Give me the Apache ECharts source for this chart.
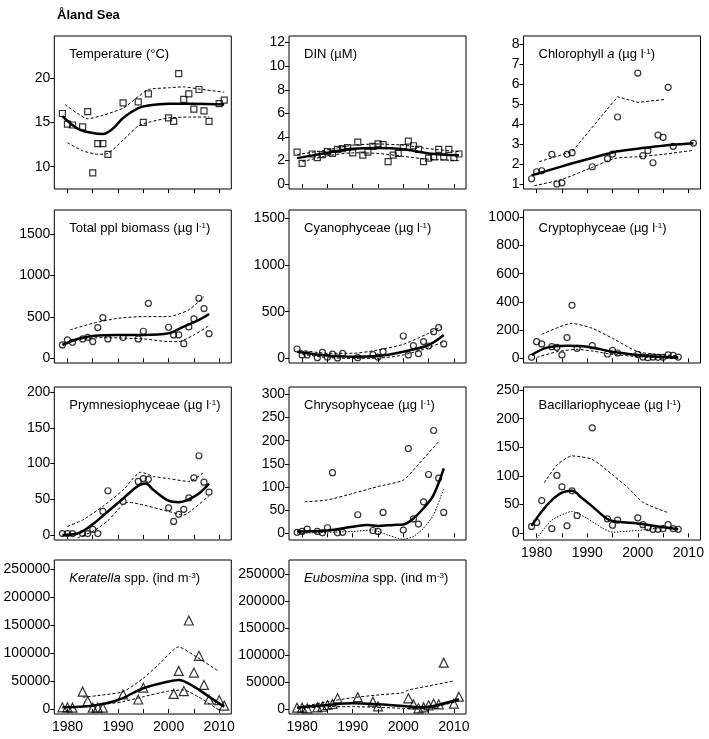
<!DOCTYPE html>
<html><head><meta charset="utf-8">
<script src="https://cdn.jsdelivr.net/npm/echarts@6/dist/echarts.min.js"></script>
<style>html,body{margin:0;padding:0;background:#fff}#c{width:709px;height:739px}</style>
</head><body><div id="c"></div>
<script>
// ---------- data ----------
const xTickYears = [1980, 1985, 1990, 1995, 2000, 2005, 2010];
const xLabelYears = [1980, 1990, 2000, 2010];

const tempTicks = [10, 15, 20];
const tempPts = [[1979,16.0],[1980,14.8],[1981,14.7],[1983,14.5],[1984,16.2],[1985,9.3],[1986,12.6],[1987,12.6],[1988,11.4],[1991,17.2],[1994,17.3],[1995,15.0],[1996,18.2],[2000,15.5],[2001,15.1],[2002,20.5],[2003,17.6],[2004,18.2],[2005,16.5],[2006,18.7],[2007,16.3],[2008,15.1],[2010,17.1],[2011,17.5]];
const tempFit = [[1979,15.7],[1982,14.3],[1985,13.8],[1987,13.7],[1989,14.3],[1991,15.5],[1994,16.6],[1996,16.9],[2000,17.1],[2005,17.1],[2011,17.0]];
const tempUpper = [[1979.5,17.0],[1982,16.0],[1984,15.4],[1987,15.8],[1991,16.6],[1994,17.9],[1996,18.7],[2000,18.9],[2003,19.0],[2006,18.75],[2011,18.4]];
const tempLower = [[1980,12.7],[1983,11.8],[1986,11.4],[1988,11.5],[1991,13.0],[1994,14.6],[1996,15.0],[2000,15.5],[2004,15.6],[2008,15.6]];

const dinTicks = [0, 2, 4, 6, 8, 10, 12];
const dinPts = [[1979,2.7],[1980,1.75],[1982,2.55],[1983,2.25],[1984,2.5],[1985,2.75],[1986,2.6],[1987,2.95],[1988,3.0],[1989,3.1],[1990,2.65],[1991,3.55],[1992,2.45],[1993,2.7],[1994,3.2],[1995,3.4],[1996,3.35],[1997,1.9],[1998,2.45],[1999,2.6],[2000,3.1],[2001,3.65],[2002,3.25],[2003,2.95],[2004,1.9],[2005,2.2],[2006,2.3],[2007,2.95],[2008,2.3],[2009,2.95],[2010,2.25],[2011,2.55]];
const dinFit = [[1979,2.2],[1985,2.65],[1990,3.0],[1995,3.05],[2000,2.95],[2005,2.6],[2011,2.45]];
const dinUpper = [[1979,2.5],[1985,2.9],[1990,3.3],[1995,3.4],[2000,3.3],[2005,3.0],[2011,2.75]];
const dinLower = [[1980,1.9],[1985,2.4],[1990,2.65],[1995,2.6],[2000,2.35],[2005,2.1],[2011,2.0]];

const chlTicks = [1, 2, 3, 4, 5, 6, 7, 8];
const chlPts = [[1979,1.28],[1980,1.63],[1981,1.68],[1983,2.5],[1984,1.02],[1985,1.08],[1986,2.5],[1987,2.58],[1991,1.88],[1994,2.28],[1995,2.51],[1996,4.36],[2000,6.55],[2001,2.43],[2002,2.68],[2003,2.08],[2004,3.46],[2005,3.34],[2006,5.84],[2007,2.9],[2011,3.06]];
const chlFit = [[1979,1.45],[1985,1.9],[1990,2.25],[1996,2.65],[2000,2.78],[2005,2.93],[2011,3.05]];
const chlUpper = [[1980.5,2.13],[1987,2.63],[1996,5.37],[2000,5.09],[2005.5,5.24]];
const chlLower = [[1979.5,0.93],[1985,1.25],[1991,1.85],[1995.5,2.3],[2000,2.38],[2005,2.5],[2011,2.7]];

const totTicks = [0, 500, 1000, 1500];
const totPts = [[1979,161],[1980,222],[1981,194],[1983,234],[1984,254],[1985,202],[1986,371],[1987,492],[1988,234],[1991,250],[1994,234],[1995,327],[1996,665],[2000,375],[2001,282],[2002,282],[2003,177],[2004,379],[2005,476],[2006,726],[2007,601],[2008,298]];
const totFit = [[1979,161],[1982,234],[1985,270],[1990,282],[1995,282],[2000,302],[2003,383],[2006,464],[2008,536]];
const totUpper = [[1980.5,343],[1985,423],[1990,484],[1995,504],[2000,504],[2004,585],[2007,746]];
const totLower = [[1979.5,181],[1983,234],[1987,250],[1995,234],[2000,202],[2002,202],[2005,282],[2008,395]];

const cyaTicks = [0, 500, 1000, 1500];
const cyaPts = [[1979,100],[1980,36],[1981,36],[1983,7],[1984,64],[1985,11],[1986,46],[1987,4],[1988,54],[1991,7],[1994,39],[1995,14],[1996,71],[2000,239],[2001,36],[2002,136],[2003,50],[2004,179],[2005,132],[2006,286],[2007,329],[2008,154]];
const cyaFit = [[1979,71],[1985,29],[1990,18],[1995,25],[2000,71],[2005,143],[2008,250]];
const cyaUpper = [[1979.5,89],[1985,54],[1990,54],[1995,89],[2000,150],[2005,268],[2007.5,339]];
const cyaLower = [[1980,43],[1985,7],[1990,0],[1995,2],[2000,36],[2005,114],[2008,179]];

const cryTicks = [0, 200, 400, 600, 800, 1000];
const cryPts = [[1979,7],[1980,118],[1981,102],[1983,83],[1984,78],[1985,24],[1986,147],[1987,376],[1988,71],[1991,90],[1994,31],[1995,57],[1996,38],[2000,28],[2001,9],[2002,5],[2003,9],[2004,7],[2005,7],[2006,24],[2007,21],[2008,9]];
const cryFit = [[1979,24],[1982,76],[1986,90],[1990,83],[1995,47],[2000,24],[2005,9],[2008,7]];
const cryUpper = [[1981,170],[1987,248],[1991,213],[1995,142],[2000,47],[2005,24],[2008,19]];
const cryLower = [[1980,7],[1984,47],[1988,64],[1991,52],[1995,28],[2000,12],[2005,2],[2008,0]];

const prmTicks = [0, 50, 100, 150, 200];
const prmPts = [[1979,2],[1980,2],[1981,2],[1983,2],[1984,2],[1985,8],[1986,2],[1987,33],[1988,62],[1991,47],[1994,75],[1995,79],[1996,78],[2000,38],[2001,19],[2002,29],[2003,36],[2004,52],[2005,80],[2006,111],[2007,74],[2008,60]];
const prmFit = [[1979,0],[1982,2],[1985,15],[1988,33],[1991,51],[1994,69],[1995.5,72],[1997,63],[2000,48],[2002,46],[2004,50],[2006,58],[2008,72]];
const prmUpper = [[1980,12],[1983,21],[1987,40],[1991,63],[1994.5,88],[1997,82],[2000,79],[2004,75],[2007,88]];
const prmLower = [[1982,-4],[1985,5],[1988,20],[1991,43],[1992,46],[1995,42],[2000,33],[2003,28],[2005,37],[2008,55]];

const chrTicks = [0, 50, 100, 150, 200, 250, 300];
const chrPts = [[1979,2],[1980,4],[1981,9],[1983,4],[1984,1],[1985,12],[1986,131],[1987,1],[1988,2],[1991,40],[1994,6],[1995,4],[1996,45],[2000,7],[2001,183],[2002,31],[2003,20],[2004,68],[2005,127],[2006,222],[2007,119],[2008,45]];
const chrFit = [[1979,4],[1985,6],[1990,14],[1993,18],[1995,16],[1998,18],[2000,19],[2002,32],[2004,54],[2006,83],[2008,140]];
const chrUpper = [[1980.5,68],[1985,72],[1990,86],[1995,101],[2000,115],[2003,149],[2007,198]];
const chrLower = [[1979,0],[1985,2],[1990,4],[1994,7],[1997,-4],[2000,-13],[2002,-7],[2004,11],[2006,40],[2008,97]];

const bacTicks = [0, 50, 100, 150, 200, 250];
const bacPts = [[1979,12],[1980,19],[1981,57],[1983,8],[1984,101],[1985,81],[1986,13],[1987,74],[1988,31],[1991,184],[1994,25],[1995,14],[1996,23],[2000,27],[2001,15],[2002,10],[2003,7],[2004,7],[2005,8],[2006,15],[2007,8],[2008,7]];
const bacFit = [[1979,13],[1981,38],[1983,58],[1985,71],[1987,74],[1989,61],[1991,47],[1994,25],[1996,20],[2000,17],[2004,12],[2008,7]];
const bacUpper = [[1981.5,88],[1984,119],[1987,135],[1991,129],[1995,102],[1998,80],[2001,54],[2006,36]];
const bacLower = [[1980,-9],[1983,23],[1987,38],[1990,26],[1993,9],[1995,2],[2000,5],[2004,9],[2006,10]];

const kerTicks = [0, 50000, 100000, 150000, 200000, 250000];
const kerPts = [[1979,3000],[1980,3000],[1981,2400],[1983,31000],[1984,14300],[1985,2400],[1986,2400],[1987,2400],[1991,26000],[1994,17000],[1995,38000],[2001,27000],[2002,68000],[2003,32000],[2004,158000],[2005,65000],[2006,95000],[2007,43000],[2008,17000],[2010,16000],[2011,6000]];
const kerFit = [[1979,3000],[1985,6000],[1990,16000],[1995,37000],[2000,49000],[2002,52000],[2005,40000],[2008,22000],[2011,4000]];
const kerUpper = [[1983,21000],[1986,24000],[1991,31000],[1995,55000],[1998,79000],[2002,111000],[2005,96000],[2010,67000]];
const kerLower = [[1984,5000],[1987,8000],[1991,13000],[1995,22000],[2000,32000],[2003,34000],[2006,21000],[2010,-2000]];

const eubTicks = [0, 50000, 100000, 150000, 200000, 250000];
const eubPts = [[1979,2500],[1980,2500],[1981,1200],[1983,3000],[1984,4300],[1985,7400],[1986,9300],[1987,19800],[1991,22000],[1994,13600],[1995,5000],[2001,19800],[2002,8700],[2003,1200],[2004,3000],[2005,6800],[2006,9900],[2007,8700],[2008,86000],[2010,9900],[2011,22900]];
const eubFit = [[1979,2500],[1985,7400],[1990,10500],[1995,8700],[2000,5600],[2003,3100],[2006,5600],[2011,18000]];
const eubUpper = [[1980,4300],[1985,13600],[1990,21000],[1995,26000],[2000,30300],[2001,35300],[2005,42700],[2010,52000]];
const eubLower = [[1980,1200],[1985,4300],[1990,4300],[1995,3100],[2000,1200],[2003,0],[2006,3100],[2011,14800]];

// ---------- layout ----------
const colLeft = [54.3, 289, 523.5];
const rowTop = [36, 210, 387, 560];
const W = 177, H = 153;
const FONT = '"Liberation Sans", Arial, sans-serif';

const panels = [
  {r:0,c:0, label:'{n|Temperature (°C)}', ticks:tempTicks, y:[7.49,24.73], pts:tempPts, fit:tempFit, up:tempUpper, lo:tempLower, sym:'rect', ss:6},
  {r:0,c:1, label:'{n|DIN (µM)}', ticks:dinTicks, y:[-0.42,12.56], pts:dinPts, fit:dinFit, up:dinUpper, lo:dinLower, sym:'rect', ss:6},
  {r:0,c:2, label:'{n|Chlorophyll }{i|a}{n| (µg l}{s|-1}{n|)}', ticks:chlTicks, y:[0.77,8.40], pts:chlPts, fit:chlFit, up:chlUpper, lo:chlLower, sym:'circle', ss:6, upSmooth:0},
  {r:1,c:0, label:'{n|Total ppl biomass (µg l}{s|-1}{n|)}', ticks:totTicks, y:[-57,1793], pts:totPts, fit:totFit, up:totUpper, lo:totLower, sym:'circle', ss:6},
  {r:1,c:1, label:'{n|Cyanophyceae (µg l}{s|-1}{n|)}', ticks:cyaTicks, y:[-50,1589], pts:cyaPts, fit:cyaFit, up:cyaUpper, lo:cyaLower, sym:'circle', ss:6},
  {r:1,c:2, label:'{n|Cryptophyceae (µg l}{s|-1}{n|)}', ticks:cryTicks, y:[-33,1052], pts:cryPts, fit:cryFit, up:cryUpper, lo:cryLower, sym:'circle', ss:6},
  {r:2,c:0, label:'{n|Prymnesiophyceae (µg l}{s|-1}{n|)}', ticks:prmTicks, y:[-7,207.3], pts:prmPts, fit:prmFit, up:prmUpper, lo:prmLower, sym:'circle', ss:6},
  {r:2,c:1, label:'{n|Chrysophyceae (µg l}{s|-1}{n|)}', ticks:chrTicks, y:[-14.5,316], pts:chrPts, fit:chrFit, up:chrUpper, lo:chrLower, sym:'circle', ss:6, loDot:true},
  {r:2,c:2, label:'{n|Bacillariophyceae (µg l}{s|-1}{n|)}', ticks:bacTicks, y:[-11.7,255.2], pts:bacPts, fit:bacFit, up:bacUpper, lo:bacLower, sym:'circle', ss:6, loDot:true, xl:true},
  {r:3,c:0, label:'{i|Keratella}{n| spp. (ind m}{s|-3}{n|)}', ticks:kerTicks, y:[-8929,266071], pts:kerPts, fit:kerFit, up:kerUpper, lo:kerLower, sym:'triangle', ss:9, xl:true},
  {r:3,c:1, label:'{i|Eubosmina}{n| spp. (ind m}{s|-3}{n|)}', ticks:eubTicks, y:[-9280,276540], pts:eubPts, fit:eubFit, up:eubUpper, lo:eubLower, sym:'triangle', ss:9, xl:true}
];

const grid = [], xAxis = [], yAxis = [], series = [];
const title = [{
  text: 'Åland Sea', left: 52, top: 4,
  textStyle: {fontFamily: FONT, fontSize: 13, fontWeight: 'bold', color: '#000'}
}];
const rich = {
  n: {fontFamily: FONT, fontSize: 13, fontWeight: 'normal', color: '#000'},
  i: {fontFamily: FONT, fontSize: 13, fontWeight: 'normal', fontStyle: 'italic', color: '#000'},
  s: {fontFamily: FONT, fontSize: 8, fontWeight: 'normal', color: '#000', verticalAlign: 'top', lineHeight: 10}
};

panels.forEach((p, k) => {
  const left = colLeft[p.c], top = rowTop[p.r];
  grid.push({left: left, top: top, width: W, height: p.r === 3 ? H + 1 : H,
    show: true, borderColor: '#000', borderWidth: 1, backgroundColor: 'transparent'});
  xAxis.push({
    type: 'value', gridIndex: k, min: 1977.4, max: 2012.4,
    splitLine: {show: false},
    axisLine: {show: false},
    axisTick: {show: true, length: 4, customValues: xTickYears, lineStyle: {color: '#000', width: 1}},
    axisLabel: p.xl ? {show: true, customValues: xLabelYears, margin: 6, fontFamily: FONT, fontSize: 14, color: '#000', formatter: v => String(v)} : {show: false}
  });
  yAxis.push({
    type: 'value', gridIndex: k, min: p.y[0], max: p.y[1],
    splitLine: {show: false},
    axisLine: {show: false},
    axisTick: {show: true, length: 4, customValues: p.ticks, lineStyle: {color: '#000', width: 1}},
    axisLabel: {show: true, customValues: p.ticks, margin: 4, fontFamily: FONT, fontSize: 14, color: '#000', formatter: v => String(v)}
  });
  title.push({text: p.label, left: left + 10, top: top + 7,
    textStyle: {fontFamily: FONT, fontSize: 13, fontWeight: 'normal', color: '#000', rich: rich}});
  series.push({
    type: 'scatter', xAxisIndex: k, yAxisIndex: k, data: p.pts,
    symbol: p.sym, symbolSize: p.ss, silent: true,
    itemStyle: {color: 'rgba(0,0,0,0)', borderColor: '#000', borderWidth: 1.2}
  });
  series.push({
    type: 'line', xAxisIndex: k, yAxisIndex: k, data: p.up, showSymbol: false,
    smooth: p.upSmooth !== undefined ? p.upSmooth : 0.2, silent: true,
    lineStyle: {color: '#000', width: 1, type: [3, 2]}
  });
  series.push({
    type: 'line', xAxisIndex: k, yAxisIndex: k, data: p.lo, showSymbol: false, smooth: 0.2, silent: true,
    lineStyle: {color: '#000', width: 1, type: p.loDot ? [1.5, 1.5] : [3, 2]}
  });
  series.push({
    type: 'line', xAxisIndex: k, yAxisIndex: k, data: p.fit, showSymbol: false, smooth: 0.35, silent: true,
    lineStyle: {color: '#000', width: 2.5}
  });
});

const chart = echarts.init(document.getElementById('c'), null, {renderer: 'canvas'});
chart.setOption({animation: false, backgroundColor: '#fff', title, grid, xAxis, yAxis, series});
</script>
</body></html>
